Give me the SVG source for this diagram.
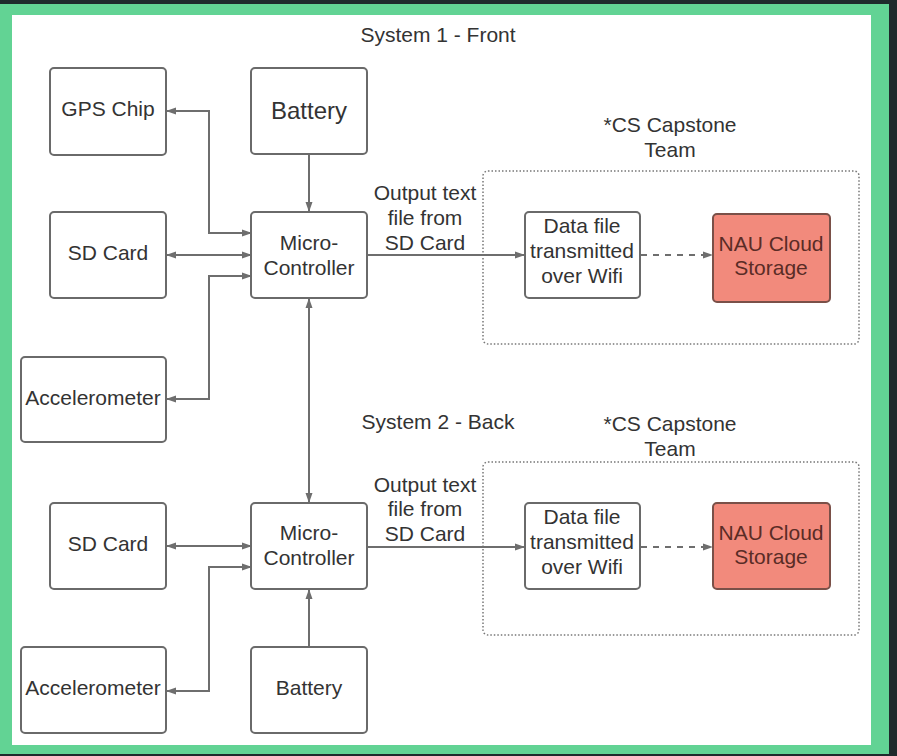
<svg xmlns="http://www.w3.org/2000/svg" width="897" height="756" viewBox="0 0 897 756">
<style>
.box{fill:#fff;stroke:#6a6a6a;stroke-width:2}
.nau{fill:#f28a7c;stroke:#7a5048;stroke-width:2}
.grp{fill:none;stroke:#777;stroke-width:1.5;stroke-dasharray:1.5 2}
text{font-family:"Liberation Sans",Arial,sans-serif;fill:#333;text-anchor:middle;dominant-baseline:central;font-size:21px}
.t24{font-size:24px}
.nt{fill:#5a2c26}
.c{fill:none;stroke:#6e6e6e;stroke-width:2}
.d{stroke-dasharray:6 6}
</style>
<defs>
<marker id="a" viewBox="0 0 10 10" refX="9" refY="5" markerWidth="10" markerHeight="10" markerUnits="userSpaceOnUse" orient="auto-start-reverse">
<path d="M0,1.5 L10,5 L0,8.5 z" fill="#6e6e6e"/>
</marker>
</defs>
<rect x="0" y="0" width="897" height="756" fill="#1f2a2c"/>
<rect x="0" y="4" width="889" height="750" fill="#62d394"/>
<rect x="12" y="15" width="859" height="730" fill="#fff"/>

<text x="438" y="34">System 1 - Front</text>
<text x="438" y="421">System 2 - Back</text>

<g id="group1">
<rect x="483" y="171" width="376" height="173" rx="5" class="grp"/>
<text x="670" y="124">*CS Capstone</text>
<text x="670" y="149">Team</text>
</g>
<g id="group2">
<rect x="483" y="462" width="376" height="173" rx="5" class="grp"/>
<text x="670" y="423">*CS Capstone</text>
<text x="670" y="448">Team</text>
</g>

<g id="connectors">
<path class="c" d="M251,233 H209 V111 H167" marker-start="url(#a)" marker-end="url(#a)"/>
<path class="c" d="M167,255 H251" marker-start="url(#a)" marker-end="url(#a)"/>
<path class="c" d="M251,276 H209 V399 H167" marker-start="url(#a)" marker-end="url(#a)"/>
<path class="c" d="M309,155 V211" marker-end="url(#a)"/>
<path class="c" d="M309,299 V502" marker-start="url(#a)" marker-end="url(#a)"/>
<path class="c" d="M368,255 H524" marker-end="url(#a)"/>
<path class="c d" d="M641,255 H712" marker-end="url(#a)"/>
<path class="c" d="M167,546 H251" marker-start="url(#a)" marker-end="url(#a)"/>
<path class="c" d="M251,567 H209 V691 H167" marker-start="url(#a)" marker-end="url(#a)"/>
<path class="c" d="M309,647 V590" marker-end="url(#a)"/>
<path class="c" d="M368,547 H524" marker-end="url(#a)"/>
<path class="c d" d="M641,547 H712" marker-end="url(#a)"/>
<text x="425" y="192">Output text</text>
<text x="425" y="217">file from</text>
<text x="425" y="242">SD Card</text>
<text x="425" y="484">Output text</text>
<text x="425" y="508">file from</text>
<text x="425" y="533">SD Card</text>
</g>

<g id="gps">
<rect x="50" y="68" width="116" height="87" rx="4" class="box"/>
<text x="108" y="108">GPS Chip</text>
</g>
<g id="battery1">
<rect x="251" y="68" width="116" height="86" rx="4" class="box"/>
<text x="309" y="110" class="t24">Battery</text>
</g>
<g id="micro1">
<rect x="251" y="212" width="116" height="86" rx="4" class="box"/>
<text x="309" y="242">Micro-</text>
<text x="309" y="267">Controller</text>
</g>
<g id="sd1">
<rect x="50" y="212" width="116" height="86" rx="4" class="box"/>
<text x="108" y="252">SD Card</text>
</g>
<g id="accel1">
<rect x="21" y="357" width="145" height="85" rx="4" class="box"/>
<text x="93" y="397">Accelerometer</text>
</g>
<g id="data1">
<rect x="525" y="212" width="115" height="86" rx="4" class="box"/>
<text x="582" y="225">Data file</text>
<text x="582" y="250">transmitted</text>
<text x="582" y="275">over Wifi</text>
</g>
<g id="nau1">
<rect x="713" y="214" width="117" height="88" rx="4" class="nau"/>
<text x="771" y="243" class="nt">NAU Cloud</text>
<text x="771" y="267" class="nt">Storage</text>
</g>

<g id="sd2">
<rect x="50" y="503" width="116" height="86" rx="4" class="box"/>
<text x="108" y="543">SD Card</text>
</g>
<g id="micro2">
<rect x="251" y="503" width="116" height="86" rx="4" class="box"/>
<text x="309" y="532">Micro-</text>
<text x="309" y="557">Controller</text>
</g>
<g id="battery2">
<rect x="251" y="647" width="116" height="86" rx="4" class="box"/>
<text x="309" y="687">Battery</text>
</g>
<g id="accel2">
<rect x="21" y="647" width="145" height="86" rx="4" class="box"/>
<text x="93" y="687">Accelerometer</text>
</g>
<g id="data2">
<rect x="525" y="503" width="115" height="86" rx="4" class="box"/>
<text x="582" y="516">Data file</text>
<text x="582" y="541">transmitted</text>
<text x="582" y="566">over Wifi</text>
</g>
<g id="nau2">
<rect x="713" y="503" width="117" height="86" rx="4" class="nau"/>
<text x="771" y="532" class="nt">NAU Cloud</text>
<text x="771" y="556" class="nt">Storage</text>
</g>
</svg>
